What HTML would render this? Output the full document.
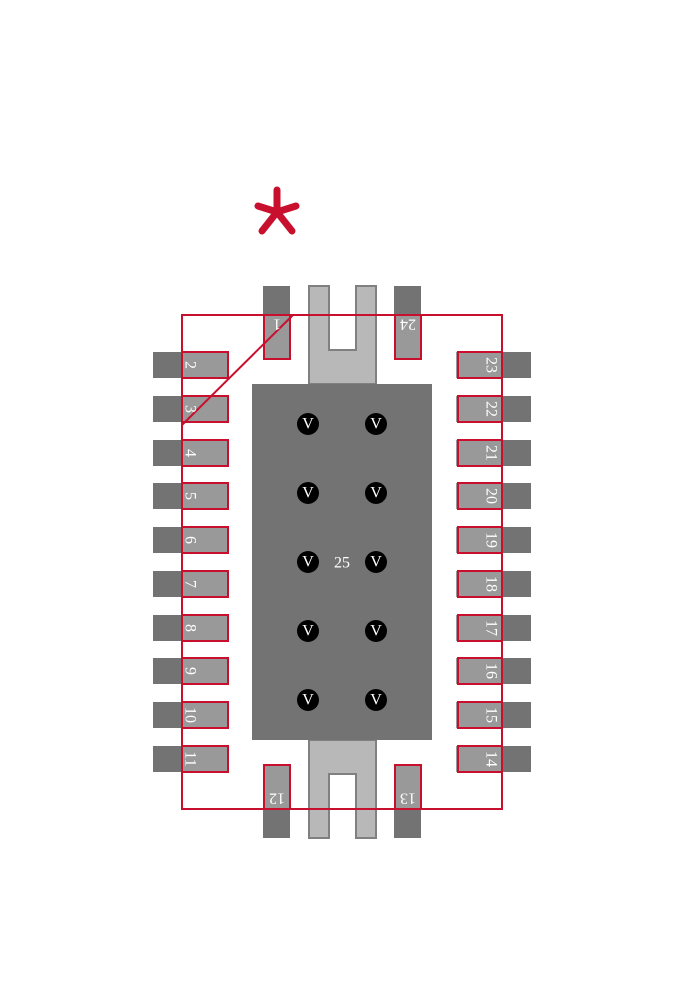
<!DOCTYPE html>
<html><head><style>html,body{margin:0;padding:0;background:#fff}svg{display:block}</style></head>
<body>
<svg width="684" height="1000" viewBox="0 0 684 1000" xmlns="http://www.w3.org/2000/svg" font-family="Liberation Serif, serif">
<g stroke="#c8102e" stroke-width="7" stroke-linecap="round">
<line x1="277" y1="190" x2="277" y2="212"/>
<line x1="258" y1="206" x2="277" y2="212"/>
<line x1="296" y1="206" x2="277" y2="212"/>
<line x1="262" y1="231" x2="277" y2="212"/>
<line x1="292" y1="231" x2="277" y2="212"/>
</g>
<!-- tabs -->
<path d="M309,286 H329 V350 H356 V286 H376 V384 H309 Z" fill="#b8b8b8" stroke="#808080" stroke-width="2"/>
<path d="M309,838 H329 V774 H356 V838 H376 V740 H309 Z" fill="#b8b8b8" stroke="#808080" stroke-width="2"/>
<rect x="252" y="384" width="180" height="356" fill="#737373"/>
<!-- top/bottom pads -->
<g>
<rect x="263" y="286" width="27" height="73" fill="#737373"/><rect x="264" y="315" width="26" height="44" fill="#999"/>
<rect x="394" y="286" width="27" height="73" fill="#737373"/><rect x="395" y="315" width="26" height="44" fill="#999"/>
<rect x="263" y="764" width="27" height="74" fill="#737373"/><rect x="264" y="764" width="26" height="45" fill="#999"/>
<rect x="394" y="764" width="27" height="74" fill="#737373"/><rect x="395" y="764" width="26" height="45" fill="#999"/>
</g>
<g id="left">
<rect x="153" y="352" width="76" height="26" fill="#737373"/><rect x="182" y="352" width="47" height="26" fill="#999"/>
<rect x="153" y="396" width="76" height="26" fill="#737373"/><rect x="182" y="396" width="47" height="26" fill="#999"/>
<rect x="153" y="440" width="76" height="26" fill="#737373"/><rect x="182" y="440" width="47" height="26" fill="#999"/>
<rect x="153" y="483" width="76" height="26" fill="#737373"/><rect x="182" y="483" width="47" height="26" fill="#999"/>
<rect x="153" y="527" width="76" height="26" fill="#737373"/><rect x="182" y="527" width="47" height="26" fill="#999"/>
<rect x="153" y="571" width="76" height="26" fill="#737373"/><rect x="182" y="571" width="47" height="26" fill="#999"/>
<rect x="153" y="615" width="76" height="26" fill="#737373"/><rect x="182" y="615" width="47" height="26" fill="#999"/>
<rect x="153" y="658" width="76" height="26" fill="#737373"/><rect x="182" y="658" width="47" height="26" fill="#999"/>
<rect x="153" y="702" width="76" height="26" fill="#737373"/><rect x="182" y="702" width="47" height="26" fill="#999"/>
<rect x="153" y="746" width="76" height="26" fill="#737373"/><rect x="182" y="746" width="47" height="26" fill="#999"/>
</g>
<g id="right">
<rect x="456" y="352" width="75" height="26" fill="#737373"/><rect x="456" y="352" width="46" height="26" fill="#999"/>
<rect x="456" y="396" width="75" height="26" fill="#737373"/><rect x="456" y="396" width="46" height="26" fill="#999"/>
<rect x="456" y="440" width="75" height="26" fill="#737373"/><rect x="456" y="440" width="46" height="26" fill="#999"/>
<rect x="456" y="483" width="75" height="26" fill="#737373"/><rect x="456" y="483" width="46" height="26" fill="#999"/>
<rect x="456" y="527" width="75" height="26" fill="#737373"/><rect x="456" y="527" width="46" height="26" fill="#999"/>
<rect x="456" y="571" width="75" height="26" fill="#737373"/><rect x="456" y="571" width="46" height="26" fill="#999"/>
<rect x="456" y="615" width="75" height="26" fill="#737373"/><rect x="456" y="615" width="46" height="26" fill="#999"/>
<rect x="456" y="658" width="75" height="26" fill="#737373"/><rect x="456" y="658" width="46" height="26" fill="#999"/>
<rect x="456" y="702" width="75" height="26" fill="#737373"/><rect x="456" y="702" width="46" height="26" fill="#999"/>
<rect x="456" y="746" width="75" height="26" fill="#737373"/><rect x="456" y="746" width="46" height="26" fill="#999"/>
</g>
<!-- red outlines -->
<g fill="none" stroke="#c8102e" stroke-width="2">
<rect x="182" y="315" width="320" height="494"/>
<line x1="293" y1="315" x2="182" y2="425"/>
<rect x="264" y="315" width="26" height="44"/><rect x="395" y="315" width="26" height="44"/>
<rect x="264" y="765" width="26" height="44"/><rect x="395" y="765" width="26" height="44"/>
<rect x="182" y="352" width="46" height="26"/><rect x="182" y="396" width="46" height="26"/>
<rect x="182" y="440" width="46" height="26"/><rect x="182" y="483" width="46" height="26"/>
<rect x="182" y="527" width="46" height="26"/><rect x="182" y="571" width="46" height="26"/>
<rect x="182" y="615" width="46" height="26"/><rect x="182" y="658" width="46" height="26"/>
<rect x="182" y="702" width="46" height="26"/><rect x="182" y="746" width="46" height="26"/>
<rect x="458" y="352" width="44" height="26"/><rect x="458" y="396" width="44" height="26"/>
<rect x="458" y="440" width="44" height="26"/><rect x="458" y="483" width="44" height="26"/>
<rect x="458" y="527" width="44" height="26"/><rect x="458" y="571" width="44" height="26"/>
<rect x="458" y="615" width="44" height="26"/><rect x="458" y="658" width="44" height="26"/>
<rect x="458" y="702" width="44" height="26"/><rect x="458" y="746" width="44" height="26"/>
</g>
<!-- vias -->
<g fill="#000">
<circle cx="308" cy="424" r="11"/><circle cx="376" cy="424" r="11"/>
<circle cx="308" cy="493" r="11"/><circle cx="376" cy="493" r="11"/>
<circle cx="308" cy="562" r="11"/><circle cx="376" cy="562" r="11"/>
<circle cx="308" cy="631" r="11"/><circle cx="376" cy="631" r="11"/>
<circle cx="308" cy="700" r="11"/><circle cx="376" cy="700" r="11"/>
</g>
<g fill="#fff" font-size="16" text-anchor="middle" dominant-baseline="central">
<text x="308" y="424">V</text><text x="376" y="424">V</text>
<text x="308" y="493">V</text><text x="376" y="493">V</text>
<text x="308" y="562">V</text><text x="376" y="562">V</text>
<text x="308" y="631">V</text><text x="376" y="631">V</text>
<text x="308" y="700">V</text><text x="376" y="700">V</text>
<text x="342" y="563">25</text>
<text transform="translate(277,324) rotate(180)">1</text>
<text transform="translate(408,324) rotate(180)">24</text>
<text transform="translate(277,798) rotate(180)">12</text>
<text transform="translate(408,798) rotate(180)">13</text>
<text transform="translate(190,365) rotate(90)">2</text>
<text transform="translate(190,409) rotate(90)">3</text>
<text transform="translate(190,453) rotate(90)">4</text>
<text transform="translate(190,496) rotate(90)">5</text>
<text transform="translate(190,540) rotate(90)">6</text>
<text transform="translate(190,584) rotate(90)">7</text>
<text transform="translate(190,628) rotate(90)">8</text>
<text transform="translate(190,671) rotate(90)">9</text>
<text transform="translate(190,715) rotate(90)">10</text>
<text transform="translate(190,759) rotate(90)">11</text>
<text transform="translate(491,365) rotate(90)">23</text>
<text transform="translate(491,409) rotate(90)">22</text>
<text transform="translate(491,453) rotate(90)">21</text>
<text transform="translate(491,496) rotate(90)">20</text>
<text transform="translate(491,540) rotate(90)">19</text>
<text transform="translate(491,584) rotate(90)">18</text>
<text transform="translate(491,628) rotate(90)">17</text>
<text transform="translate(491,671) rotate(90)">16</text>
<text transform="translate(491,715) rotate(90)">15</text>
<text transform="translate(491,759) rotate(90)">14</text>
</g>
</svg>
</body></html>
